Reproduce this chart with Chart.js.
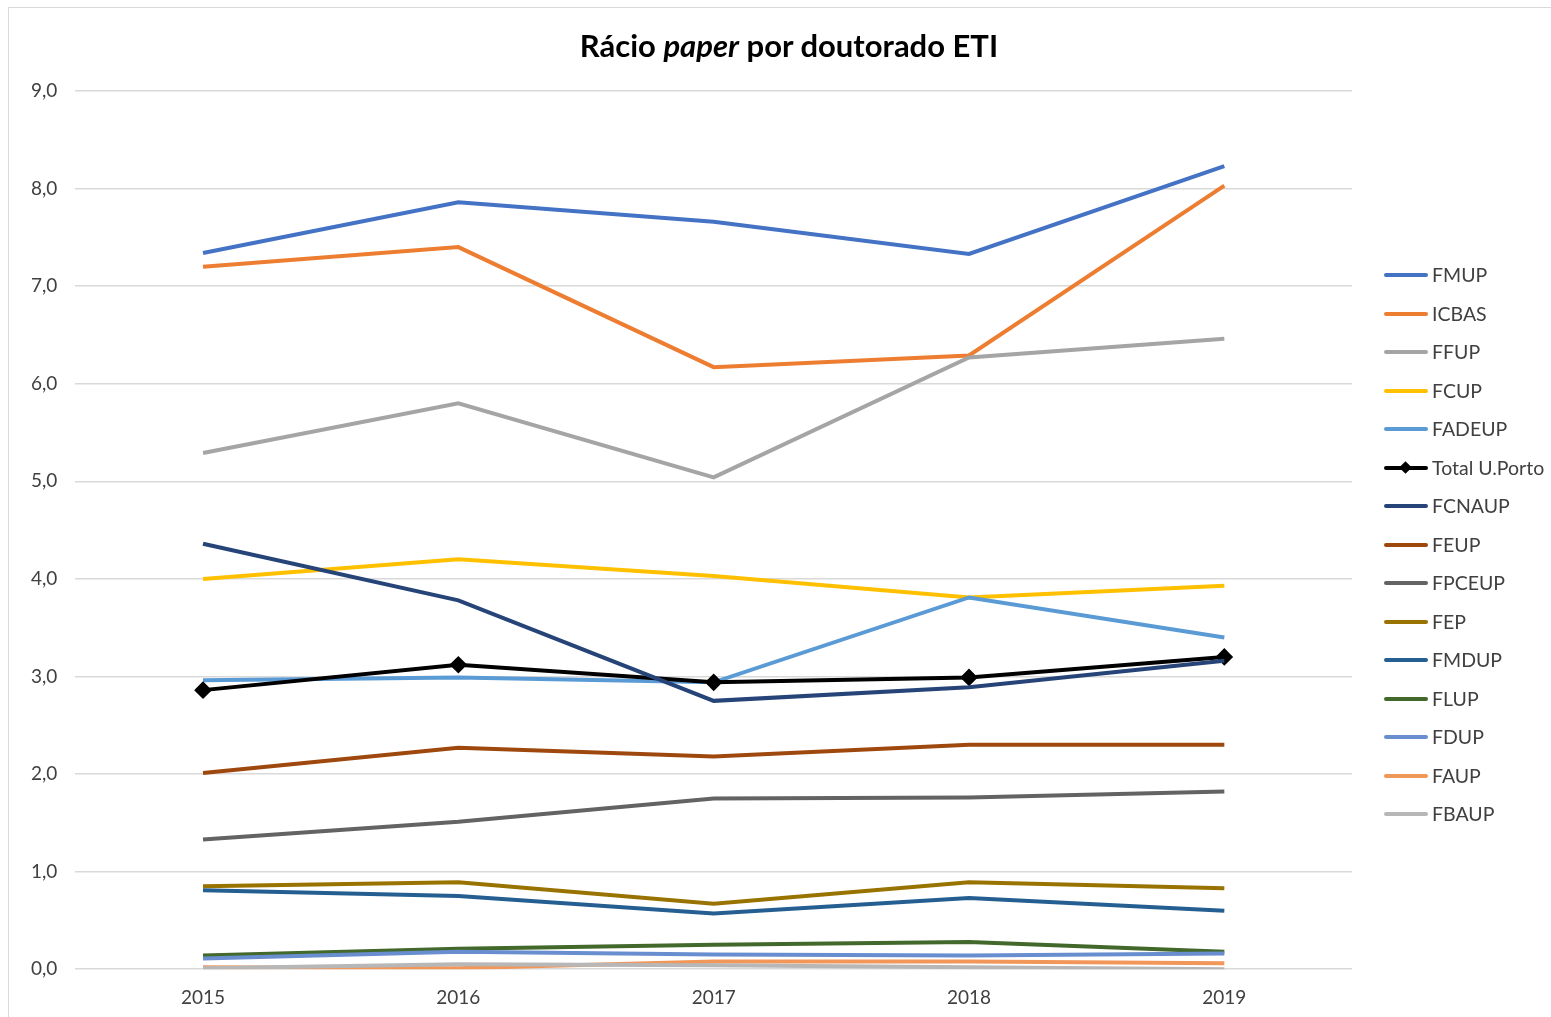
<!DOCTYPE html>
<html>
<head>
<meta charset="utf-8">
<script src="https://cdn.jsdelivr.net/npm/chart.js@4/dist/chart.umd.min.js"></script>
<style>
  body { margin: 0; background: #fff; font-family: Lato, "Liberation Sans", sans-serif; }
  #wrap { position: relative; width: 1551px; height: 1017px; overflow: hidden; }
  #frame { position: absolute; left: 8px; top: 7px; width: 1600px; height: 1100px; border: 1px solid #d9d9d9; box-sizing: border-box; }
  #c { position: absolute; left: 0; top: 0; }
  #title { position: absolute; left: 439px; width: 700px; top: 26px; text-align: center; font-size: 31px; font-weight: bold; color: #000; }
  #legend { position: absolute; left: 1384px; top: 0; }
  .item { position: absolute; left: 0; height: 20px; width: 170px; color: #404040; font-size: 19.5px; white-space: nowrap; }
  .ln { position: absolute; left: 0; top: 8px; width: 44px; height: 4px; border-radius: 2px; }
  .dm { position: absolute; left: 17px; top: 5px; width: 9px; height: 9px; background: #000; transform: rotate(45deg); }
  .tx { position: absolute; left: 48px; top: 0; line-height: 20px; }
</style>
</head>
<body>
<div id="wrap">
  <div id="frame"></div>
  <canvas id="c" width="1551" height="1026"></canvas>
  <div id="title">Rácio <i>paper</i> por doutorado ETI</div>
  <div id="legend"></div>
</div>
<script>
  let years = ["2015", "2016", "2017", "2018", "2019"];

  let names = ["FMUP", "ICBAS", "FFUP", "FCUP", "FADEUP", "Total U.Porto", "FCNAUP", "FEUP",
    "FPCEUP", "FEP", "FMDUP", "FLUP", "FDUP", "FAUP", "FBAUP"];

  let fmup   = [7.34, 7.86, 7.66, 7.33, 8.23];
  let icbas  = [7.20, 7.40, 6.17, 6.29, 8.03];
  let ffup   = [5.29, 5.80, 5.04, 6.27, 6.46];
  let fcup   = [4.00, 4.20, 4.03, 3.81, 3.93];
  let fadeup = [2.96, 2.99, 2.94, 3.81, 3.40];
  let total  = [2.86, 3.12, 2.94, 2.99, 3.20];
  let fcnaup = [4.36, 3.78, 2.75, 2.89, 3.16];
  let feup   = [2.01, 2.27, 2.18, 2.30, 2.30];
  let fpceup = [1.33, 1.51, 1.75, 1.76, 1.82];
  let fep    = [0.85, 0.89, 0.67, 0.89, 0.83];
  let fmdup  = [0.81, 0.75, 0.57, 0.73, 0.60];
  let flup   = [0.14, 0.21, 0.25, 0.28, 0.18];
  let fdup   = [0.11, 0.18, 0.15, 0.14, 0.16];
  let faup   = [0.02, 0.01, 0.08, 0.08, 0.06];
  let fbaup  = [0.01, 0.05, 0.04, 0.02, 0.00];

  let values = [fmup, icbas, ffup, fcup, fadeup, total, fcnaup, feup, fpceup, fep, fmdup, flup, fdup, faup, fbaup];

  let colors = ["#4472C4", "#ED7D31", "#A5A5A5", "#FFC000", "#5B9BD5", "#000000", "#264478", "#9E480E",
    "#636363", "#997300", "#255E91", "#43682B", "#698ED0", "#F1975A", "#B7B7B7"];

  let yTicks = [0, 1, 2, 3, 4, 5, 6, 7, 8, 9];

  let datasets = names.map((n, i) => {
    let isTotal = n === "Total U.Porto";
    return {
      label: n,
      data: values[i],
      borderColor: colors[i],
      backgroundColor: colors[i],
      borderWidth: 4,
      pointStyle: isTotal ? "rectRot" : "circle",
      pointRadius: isTotal ? 6 : 0,
      pointHoverRadius: isTotal ? 6 : 0,
      tension: 0,
      fill: false,
      order: names.length - i
    };
  });

  new Chart(document.getElementById("c"), {
    type: "line",
    data: { labels: years, datasets: datasets },
    options: {
      responsive: false,
      animation: false,
      layout: { padding: { left: 13, right: 199, top: 91, bottom: 8 } },
      plugins: {
        legend: { display: false },
        tooltip: { enabled: false }
      },
      scales: {
        x: {
          offset: true,
          grid: { display: false },
          border: { display: false },
          ticks: { color: "#404040", font: { family: "Lato, 'Liberation Sans', sans-serif", size: 19 }, padding: 9 }
        },
        y: {
          min: 0,
          max: 9,
          afterBuildTicks: ax => { ax.ticks = yTicks.map(v => ({ value: v })); },
          grid: { color: "#d9d9d9", lineWidth: 1.5, drawTicks: false },
          border: { display: false },
          ticks: {
            color: "#404040",
            font: { family: "Lato, 'Liberation Sans', sans-serif", size: 19 },
            padding: 18,
            callback: v => v.toFixed(1).replace(".", ",")
          }
        }
      }
    }
  });

  // legend
  let lg = document.getElementById("legend");
  names.forEach((n, i) => {
    let top = 265 + i * 38.5;
    let mark = n === "Total U.Porto" ? '<div class="dm"></div>' : "";
    lg.innerHTML += `<div class="item" style="top:${top}px">
      <div class="ln" style="background:${colors[i]}"></div>${mark}
      <div class="tx">${n}</div></div>`;
  });
</script>
</body>
</html>
